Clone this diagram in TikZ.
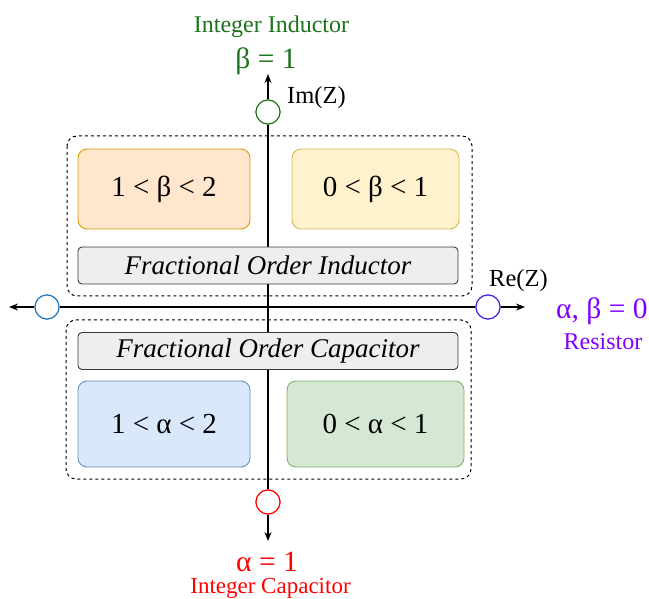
\documentclass[tikz,border=0pt]{standalone}
\usepackage{fontspec}
\setmainfont{Liberation Serif}
\usetikzlibrary{arrows.meta}
\definecolor{igreen}{RGB}{30,115,30}
\definecolor{ired}{RGB}{255,0,0}
\definecolor{ipurple}{RGB}{127,0,255}
\definecolor{cblue}{RGB}{31,119,190}
\definecolor{cviolet}{RGB}{60,40,220}
\definecolor{orfill}{HTML}{FFE6CC}\definecolor{ordraw}{HTML}{D79B00}
\definecolor{yefill}{HTML}{FFF2CC}\definecolor{yedraw}{HTML}{D6B656}
\definecolor{blfill}{HTML}{DAE8FC}\definecolor{bldraw}{HTML}{6C8EBF}
\definecolor{grfill}{HTML}{D5E8D4}\definecolor{grdraw}{HTML}{82B366}
\definecolor{gyfill}{HTML}{EEEEEE}\definecolor{gydraw}{HTML}{36393D}
\tikzset{
  axisline/.style={line width=1.2pt,black},
  axarrow/.style={axisline,-{Stealth[length=9pt,width=7pt]}},
  pole/.style={circle,draw,line width=1.1pt,fill=white,minimum size=24pt,inner sep=0pt},
  groupbox/.style={draw,dashed,line width=1pt,rounded corners=10pt},
  rangebox/.style={draw,line width=0.9pt,rounded corners=9pt,inner sep=0pt,font=\fontsize{29}{33}\selectfont},
  titlebox/.style={draw=gydraw,fill=gyfill,line width=0.9pt,rounded corners=4pt,inner sep=0pt,minimum width=380pt,minimum height=37pt,font=\itshape\fontsize{27}{30}\selectfont},
  lbl/.style={inner sep=0pt,anchor=base,font=\fontsize{24}{28}\selectfont},
  axlbl/.style={inner sep=0pt,anchor=base west,font=\fontsize{24.5}{28}\selectfont},
  bigl/.style={inner sep=0pt,anchor=base,font=\fontsize{29.5}{33}\selectfont}
}
\begin{document}
\begin{tikzpicture}[x=1pt,y=-1pt]
\useasboundingbox (0,0) rectangle (649,599);
% poles
\node[pole,draw=igreen] (ct) at (268,112) {};
\node[pole,draw=ired] (cb) at (268,502) {};
\node[pole,draw=cblue] (cl) at (47,307) {};
\node[pole,draw=cviolet] (cr) at (488,307) {};
\coordinate (tt) at (268,74);
\coordinate (bt) at (268,541);
\coordinate (lt) at (9,307);
\coordinate (rt) at (525,307);
% axes
\draw[axisline] (ct) -- (cb);
\draw[axisline] (cl) -- (cr);
\draw[axarrow] (ct.north) -- (tt);
\draw[axarrow] (cb.south) -- (bt);
\draw[axarrow] (cl.west) -- (lt);
\draw[axarrow] (cr.east) -- (rt);
% redraw poles over lines
\node[pole,draw=igreen] at (268,112) {};
\node[pole,draw=ired] at (268,502) {};
\node[pole,draw=cblue] at (47,307) {};
\node[pole,draw=cviolet] at (488,307) {};
% groups
\draw[groupbox] (67,136) rectangle (472,296);
\draw[groupbox] (66,320) rectangle (471,479);
% boxes
\node[rangebox,draw=ordraw,fill=orfill,minimum width=172pt,minimum height=80pt] (b1) at (164,189) {1 < β < 2};
\node[rangebox,draw=yedraw,fill=yefill,minimum width=167pt,minimum height=80pt] (b2) at (375.5,189) {0 < β < 1};
\node[titlebox] (foi) at (268,265.5) {Fractional Order Inductor};
\node[titlebox] (foc) at (268,351) {Fractional Order Capacitor};
\node[rangebox,draw=bldraw,fill=blfill,minimum width=172pt,minimum height=86pt] (b3) at (164,424) {1 < α < 2};
\node[rangebox,draw=grdraw,fill=grfill,minimum width=177pt,minimum height=86pt] (b4) at (375.5,424) {0 < α < 1};
% labels
\node[lbl,text=igreen] (ii) at (271.5,33) {Integer Inductor};
\node[bigl,text=igreen] (b1eq) at (266,69) {β = 1};
\node[axlbl] (im) at (287,104) {Im(Z)};
\node[axlbl] (re) at (489,287) {Re(Z)};
\node[bigl,anchor=base west,text=ipurple] (ab) at (556,319) {α, β = 0};
\node[lbl,text=ipurple] (res) at (603,349) {Resistor};
\node[bigl,text=ired] (a1) at (267,571) {α = 1};
\node[lbl,text=ired,font=\fontsize{23}{27}\selectfont] (ic) at (270.5,593) {Integer Capacitor};
\end{tikzpicture}
\end{document}
